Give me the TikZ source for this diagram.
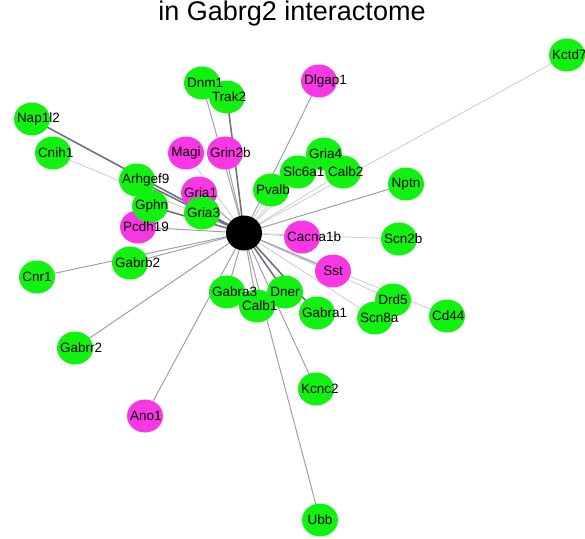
\documentclass[tikz,border=0pt]{standalone}
\usepackage{fontspec}
\setmainfont{Liberation Sans}
\usetikzlibrary{shapes.geometric,backgrounds}
\definecolor{ngreen}{RGB}{17,242,17}
\definecolor{nmag}{RGB}{250,55,228}
\definecolor{elight}{RGB}{196,198,206}
\definecolor{emed}{RGB}{158,161,173}
\definecolor{edark}{RGB}{110,113,127}
\newlength\labw
\newcommand\lbl[2]{\node[lab] (#1-t) at (#1) {\settowidth\labw{#2}\ifdim\labw>30pt\labw=30pt\fi\hbox to 0pt{\hskip-0.5\labw #2\hss}};}
\begin{document}
\begin{tikzpicture}[x=1pt,y=-1pt,
  nd/.style={ellipse, inner sep=0pt, minimum width=36pt, minimum height=33pt, fill=#1},
  gn/.style={nd=ngreen}, mg/.style={nd=nmag},
  lab/.style={inner sep=0pt, font=\fontsize{13.5}{16}\selectfont},
  el/.style={draw=elight, line width=0.7pt},
  em/.style={draw=emed, line width=1pt},
  ed/.style={draw=edark, line width=1.6pt}]
\useasboundingbox (0,0) rectangle (585,538);
\node[font=\fontsize{27}{32}\selectfont, anchor=base, inner sep=0pt] (title) at (292,20) {in Gabrg2 interactome};
% nodes (drawing order = stacking)
\node[gn] (Kctd7) at (567,55) {};
\node[gn] (Dnm1) at (202,83) {};
\node[gn] (Trak2) at (227,97) {};
\node[mg] (Dlgap1) at (319,81) {};
\node[gn] (Nap1l2) at (32,119) {};
\node[gn] (Cnih1) at (53,153) {};
\node[mg] (Magi) at (186,153) {};
\node[mg] (Grin2b) at (225,153) {};
\node[gn] (Gria4) at (324,154) {};
\node[gn] (Calb2) at (343,172) {};
\node[gn] (Slc6a1) at (298,172) {};
\node[gn] (Nptn) at (406,184) {};
\node[gn] (Arhgef9) at (137,180) {};
\node[gn] (Pvalb) at (271,190) {};
\node[mg] (Pcdh19) at (138,227) {};
\node[gn] (Gphn) at (150,206) {};
\node[mg] (Gria1) at (199,193) {};
\node[gn] (Gria3) at (202,213) {};
\node[mg] (Cacna1b) at (302,237) {};
\node[gn] (Scn2b) at (399,239) {};
\node[gn] (Gabrb2) at (130,263) {};
\node[mg] (Sst) at (333,271) {};
\node[gn] (Cnr1) at (37,277) {};
\node[gn] (Gabra3) at (227,292) {};
\node[gn] (Calb1) at (257,306) {};
\node[gn] (Dner) at (285,292) {};
\node[gn] (Gabra1) at (317,313) {};
\node[gn] (Drd5) at (393,300) {};
\node[gn] (Scn8a) at (375,318) {};
\node[gn] (Cd44) at (447,316) {};
\node[gn] (Gabrr2) at (75,348) {};
\node[gn] (Kcnc2) at (316,389) {};
\node[mg] (Ano1) at (145,416) {};
\node[gn] (Ubb) at (320,520) {};
\node[ellipse, fill=black, inner sep=0pt, minimum width=36pt, minimum height=35pt] (C) at (244,233) {};
% labels
\lbl{Kctd7}{Kctd7}
\lbl{Dnm1}{Dnm1}
\lbl{Trak2}{Trak2}
\lbl{Dlgap1}{Dlgap1}
\lbl{Nap1l2}{Nap1l2}
\lbl{Cnih1}{Cnih1}
\lbl{Magi}{Magi}
\lbl{Grin2b}{Grin2b}
\lbl{Gria4}{Gria4}
\lbl{Calb2}{Calb2}
\lbl{Slc6a1}{Slc6a1}
\lbl{Nptn}{Nptn}
\lbl{Arhgef9}{Arhgef9}
\lbl{Pvalb}{Pvalb}
\lbl{Pcdh19}{Pcdh19}
\lbl{Gphn}{Gphn}
\lbl{Gria1}{Gria1}
\lbl{Gria3}{Gria3}
\lbl{Cacna1b}{Cacna1b}
\lbl{Scn2b}{Scn2b}
\lbl{Gabrb2}{Gabrb2}
\lbl{Sst}{Sst}
\lbl{Cnr1}{Cnr1}
\lbl{Gabra3}{Gabra3}
\lbl{Calb1}{Calb1}
\lbl{Dner}{Dner}
\lbl{Gabra1}{Gabra1}
\lbl{Drd5}{Drd5}
\lbl{Scn8a}{Scn8a}
\lbl{Cd44}{Cd44}
\lbl{Gabrr2}{Gabrr2}
\lbl{Kcnc2}{Kcnc2}
\lbl{Ano1}{Ano1}
\lbl{Ubb}{Ubb}
% edges
\begin{pgfonlayer}{background}
\foreach \n in {Kctd7,Cnih1,Magi,Gria4,Calb2,Slc6a1,Pvalb,Cacna1b,Scn2b,Drd5,Scn8a,Cd44}
  \draw[el] (C.center) -- (\n.center);
\foreach \n in {Dnm1,Dlgap1,Grin2b,Gria1,Pcdh19,Nptn,Gabrb2,Cnr1,Gabrr2,Ano1,Gabra3,Ubb,Kcnc2,Sst,Calb1}
  \draw[em] (C.center) -- (\n.center);
\foreach \n in {Trak2,Nap1l2,Arhgef9,Gphn,Gria3,Dner,Gabra1}
  \draw[ed] (C.center) -- (\n.center);
\end{pgfonlayer}
\end{tikzpicture}
\end{document}
